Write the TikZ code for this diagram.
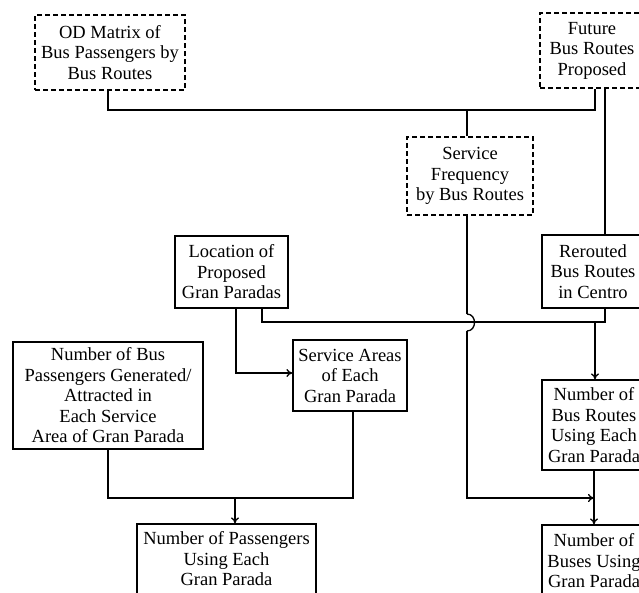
\documentclass[tikz,border=0pt]{standalone}
\usepackage{fontspec}
\setmainfont{Liberation Serif}
\usetikzlibrary{arrows.meta}
\begin{document}
\begin{tikzpicture}[x=1pt,y=-1pt,
  every node/.style={font=\fontsize{18.5}{20.5}\selectfont},
  box/.style={draw, line width=1.3pt, rectangle, inner sep=1pt, align=center},
  dbox/.style={box, dash pattern=on 5pt off 3pt},
  ln/.style={line width=1.3pt},
  arr/.style={ln, -{To[length=6pt,width=8pt]}}]
\useasboundingbox (0,0) rectangle (639,592);
\fill[white] (0,0) rectangle (639,592);
\begin{scope}
\clip (0,0) rectangle (639,592);
\node[dbox, minimum width=150pt, minimum height=75pt] (od) at (110,52.5) {OD Matrix of\\Bus Passengers by\\Bus Routes};
\node[dbox, minimum width=104pt, minimum height=75pt] (fut) at (592,50.5) {Future\\Bus Routes\\Proposed};
\node[dbox, minimum width=126pt, minimum height=78pt] (sf) at (470,176) {Service\\Frequency\\by Bus Routes};
\node[box, minimum width=102pt, minimum height=73pt] (rr) at (593,271.5) {Rerouted\\Bus Routes\\in Centro};
\node[box, minimum width=113pt, minimum height=72pt] (loc) at (231.5,272) {Location of\\Proposed\\Gran Paradas};
\node[box, minimum width=190pt, minimum height=107pt] (nbp) at (108,395.5) {Number of Bus\\Passengers Generated/\\Attracted in\\Each Service\\Area of Gran Parada};
\node[box, minimum width=114pt, minimum height=71pt] (sa) at (350,375.5) {Service Areas\\of Each\\Gran Parada};
\node[box, minimum width=104pt, minimum height=90pt] (nbr) at (594,425) {Number of\\Bus Routes\\Using Each\\Gran Parada};
\node[box, minimum width=104pt, minimum height=72pt] (nb) at (594,561) {Number of\\Buses Using\\Gran Parada};
\node[box, minimum width=179pt, minimum height=70pt] (np) at (226.5,559) {Number of Passengers\\Using Each\\Gran Parada};

\coordinate (j1) at (467,110);
\coordinate (j2) at (595,322);
\coordinate (j3) at (235,498);
\coordinate (j4) at (594,498);
\coordinate (h1) at (467,314);
\coordinate (h2) at (467,331);
\coordinate (c5) at (467,498);

% top collector
\draw[ln] (od.south -| 108,0) -- (108,110) -- (595,110) -- (fut.south -| 595,0);
\draw[ln] (j1) -- (sf.north -| j1);
\draw[ln] (fut.south -| 605,0) -- (rr.north -| 605,0);
% location -> rerouted line
\draw[ln] (loc.south -| 262,0) -- (262,322) -- (605,322) -- (rr.south -| 605,0);
\draw[arr] (j2) -- (nbr.north -| j2);
% location -> service areas
\draw[arr] (loc.south -| 236,0) -- (236,373) -- (sa.west |- 0,373);
% nbp + sa -> np
\draw[ln] (nbp.south -| 108,0) -- (108,498) -- (353,498) -- (sa.south -| 353,0);
\draw[arr] (j3) -- (np.north -| j3);
% sf -> buses
\draw[ln] (sf.south -| h1) -- (h1);
\draw[ln] (h1) .. controls (477,314) and (477,331) .. (h2);
\draw[ln] (h2) -- (c5) -- (588,498);
\draw[arr] (587,498) -- (j4);
\draw[arr] (nbr.south -| 594,0) -- (nb.north -| 594,0);
\end{scope}
\end{tikzpicture}
\end{document}
